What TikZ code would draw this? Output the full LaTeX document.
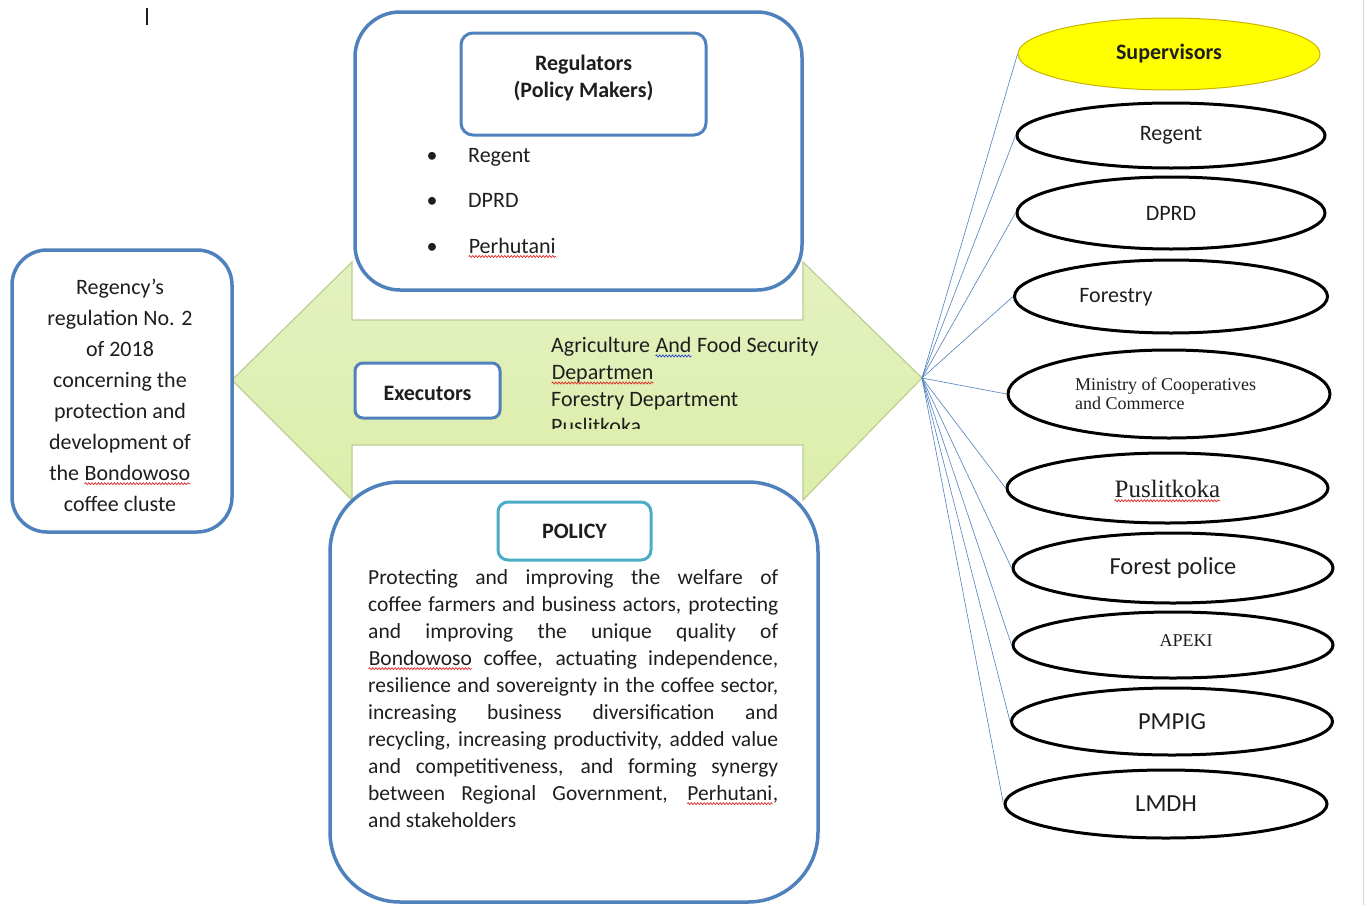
\documentclass[tikz,border=0pt]{standalone}
\usepackage{fontspec}
\setmainfont{Carlito}
\newfontfamily\serifface{Liberation Serif}
\usetikzlibrary{shapes.geometric,positioning,decorations.pathmorphing}
\definecolor{txt}{HTML}{1E1E1E}
\definecolor{boxblue}{HTML}{4F81BD}
\definecolor{polteal}{HTML}{4BACC6}
\definecolor{arrowline}{HTML}{BCCF92}
\definecolor{arrowtop}{HTML}{E4F1C0}
\definecolor{arrowmid}{HTML}{F0F7E0}
\definecolor{arrowbot}{HTML}{DCEEAA}
\definecolor{supyellow}{HTML}{FFFF00}
\definecolor{supline}{HTML}{C8B400}
\definecolor{linkblue}{HTML}{4F81BD}
\definecolor{spellred}{HTML}{E02828}
\definecolor{grammarblue}{HTML}{2A3FD8}
\definecolor{pageedge}{HTML}{D4D4D4}

\newcommand\spell[2][spellred]{\tikz[baseline=(sw.base)]{\node[shape=rectangle, draw=none, fill=none, inner sep=0pt, minimum width=0pt, minimum height=0pt] (sw) {#2};
  \draw[#1, line width=0.7pt, decorate, decoration={snake, amplitude=1pt, segment length=3.2pt}]
    ([yshift=-3.5pt]sw.base west) -- ([yshift=-3.5pt]sw.base east);}}
\newcommand\jline[1]{\makebox[410pt][s]{#1}}

\begin{document}
\begin{tikzpicture}[
  x=1pt, y=-1pt,
  bluebox/.style={draw=boxblue, line width=3.5pt, fill=white, inner sep=0pt},
  titlebox/.style={draw=boxblue, line width=3pt, fill=white, rounded corners=12pt, inner sep=0pt},
  body/.style={font=\fontsize{22}{27}\selectfont, text=txt},
  boldtxt/.style={font=\fontsize{22}{27}\selectfont\bfseries, text=txt},
  oval/.style={ellipse, draw=black, line width=3pt, fill=white, inner sep=0pt, font=\fontsize{22}{26}\selectfont, text=txt},
  link/.style={draw=linkblue, line width=0.6pt},
]

\useasboundingbox (0,0) rectangle (1368,905);
\fill[white] (0,0) rectangle (1368,905);

\draw[pageedge, line width=1pt] (1363,0) -- (1363,905);
\draw[txt, line width=1.2pt] (147,8) -- (147,25);

% double arrow behind the boxes
\coordinate (tipL) at (232,380);
\coordinate (tipR) at (922,378);
\shadedraw[top color=arrowtop, middle color=arrowmid, bottom color=arrowbot, draw=arrowline, line width=1.2pt]
  (tipL) -- (352,262) -- (352,320) -- (803,320) -- (803,262) -- (tipR)
  -- (803,500) -- (803,445) -- (352,445) -- (352,500) -- cycle;

% left regulation box
\node[bluebox, rounded corners=35pt, minimum width=220pt, minimum height=282pt] (regulation) at (122,391) {};
\node[font=\fontsize{22}{31}\selectfont, text=txt, align=center] (regulationtxt) at (120,395)
  {Regency’s\\regulation No. 2\\of 2018\\concerning the\\protection and\\development of\\the \spell{Bondowoso}\\coffee cluste};

% regulators
\node[bluebox, rounded corners=45pt, minimum width=447pt, minimum height=278pt] (regbox) at (578.5,151) {};
\node[titlebox, minimum width=245pt, minimum height=102pt] (regtitle) at (583.5,84) {};
\node[boldtxt, align=center] (regtitletxt) at (583.5,78) {Regulators\\(Policy Makers)};
\node[body, anchor=base] (bul1) at (432,162) {\textbullet};
\node[body, anchor=base] (bul2) at (432,207) {\textbullet};
\node[body, anchor=base] (bul3) at (432,253) {\textbullet};
\node[body, anchor=base west, inner sep=0pt] (reg1) at (468,162) {Regent};
\node[body, anchor=base west, inner sep=0pt] (reg2) at (468,207) {DPRD};
\node[body, anchor=base west, inner sep=0pt] (reg3) at (468,253) {\spell{Perhutani}};

% executors
\node[bluebox, line width=3pt, rounded corners=8pt, minimum width=145pt, minimum height=55pt] (exec) at (427.5,390.5) {};
\node[boldtxt] (exectxt) at (427.5,393) {Executors};
\begin{scope}
  \clip (540,325) rectangle (840,428);
  \node[body, align=left, anchor=north west, inner sep=0pt] (execlist) at (551,337)
    {Agriculture \spell[grammarblue]{And} Food Security\\\spell{Departmen}\\Forestry Department\\Puslitkoka};
\end{scope}

% policy
\node[bluebox, rounded corners=70pt, minimum width=488pt, minimum height=420pt] (polbox) at (574,692) {};
\node[draw=polteal, line width=3pt, fill=white, rounded corners=10pt, minimum width=153pt, minimum height=58pt, boldtxt] (poltitle) at (574.5,531) {POLICY};
\node[font=\fontsize{21.5}{27}\selectfont, text=txt, align=left, anchor=north west, inner sep=0pt] (poltxt) at (368,569)
  {\jline{Protecting and improving the welfare of}\\
   \jline{coffee farmers and business actors, protecting}\\
   \jline{and improving the unique quality of}\\
   \jline{\spell{Bondowoso} coffee, actuating independence,}\\
   \jline{resilience and sovereignty in the coffee sector,}\\
   \jline{increasing business diversification and}\\
   \jline{recycling, increasing productivity, added value}\\
   \jline{and competitiveness, and forming synergy}\\
   \jline{between Regional Government, \spell{Perhutani},}\\
   and stakeholders};

% supervisors
\node[ellipse, draw=supline, fill=supyellow, line width=1pt, minimum width=302pt, minimum height=72pt, inner sep=0pt, boldtxt] (sup) at (1169,54) {Supervisors};
\node[oval, minimum width=308pt, minimum height=65pt] (sregent) at (1171,135.5) {Regent};
\node[oval, minimum width=308pt, minimum height=72pt] (sdprd) at (1171,213) {DPRD};
\node[oval, minimum width=313pt, minimum height=73pt] (sforest) at (1171,296.5) {};
\node[body] (sforesttxt) at (1116,297) {Forestry};
\node[oval, minimum width=322pt, minimum height=88pt] (smin) at (1169,394) {};
\node[font=\serifface\fontsize{18}{19}\selectfont, text=txt, align=left, anchor=west, inner sep=0pt] (smintxt) at (1075,394) {Ministry of Cooperatives\\and Commerce};
\node[oval, minimum width=321pt, minimum height=70pt] (spus) at (1167.5,488) {};
\node[font=\serifface\fontsize{25}{28}\selectfont, text=txt] (spustxt) at (1167.5,491) {\spell{Puslitkoka}};
\node[oval, minimum width=320pt, minimum height=70pt, font=\fontsize{24.5}{28}\selectfont] (spol) at (1173,568) {Forest police};
\node[oval, minimum width=320pt, minimum height=66pt] (sapeki) at (1173,645) {};
\node[font=\serifface\fontsize{18}{20}\selectfont, text=txt] (sapekitxt) at (1186,641) {APEKI};
\node[oval, minimum width=321pt, minimum height=67pt, font=\fontsize{24.5}{28}\selectfont] (spmpig) at (1172,721.5) {PMPIG};
\node[oval, minimum width=322pt, minimum height=68pt, font=\fontsize{24.5}{28}\selectfont] (slmdh) at (1166,804) {LMDH};

\foreach \s in {sup,sregent,sdprd,sforest,smin,spus,spol,sapeki,spmpig,slmdh}
  \draw[link] (tipR) -- (\s.west);

\end{tikzpicture}
\end{document}
